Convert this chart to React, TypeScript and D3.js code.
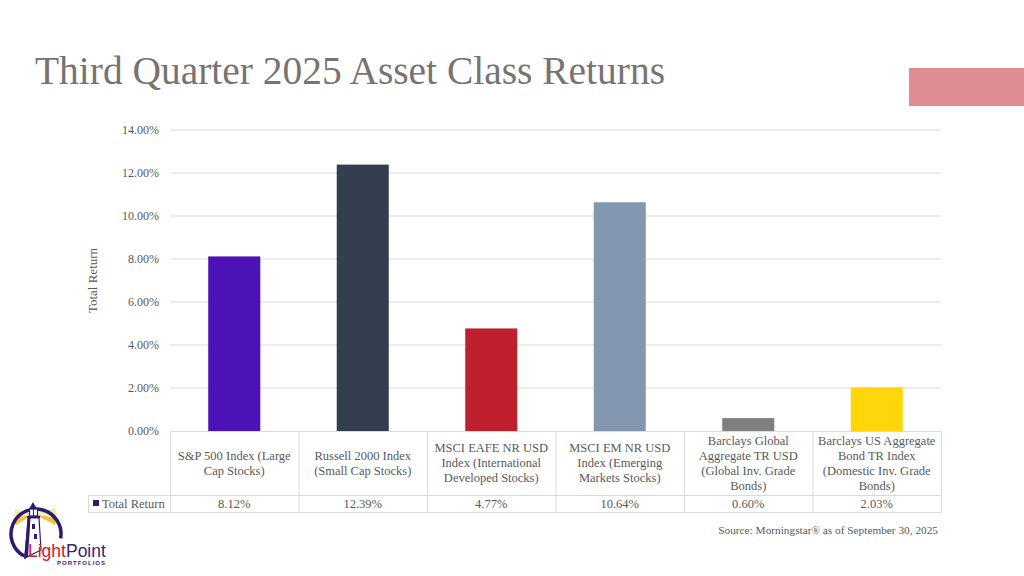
import React from "react";
import * as d3 from "d3";

const categories: string[][] = [
  ["S&P 500 Index (Large", "Cap Stocks)"],
  ["Russell 2000 Index", "(Small Cap Stocks)"],
  ["MSCI EAFE NR USD", "Index (International", "Developed Stocks)"],
  ["MSCI EM NR USD", "Index (Emerging", "Markets Stocks)"],
  ["Barclays Global", "Aggregate TR USD", "(Global Inv. Grade", "Bonds)"],
  ["Barclays US Aggregate", "Bond TR Index", "(Domestic Inv. Grade", "Bonds)"],
];
const values: number[] = [8.12, 12.39, 4.77, 10.64, 0.6, 2.03];
const barColors: string[] = ["#4b12b7", "#333f50", "#c01f2e", "#8497b0", "#7f7f7f", "#ffd60a"];
const yTicks: number[] = [0, 2, 4, 6, 8, 10, 12, 14];
const seriesName = "Total Return";
const titleText = "Third Quarter 2025 Asset Class Returns";
const sourceText = "Source: Morningstar\u00ae as of September 30, 2025";

const FONT = '"Liberation Serif", "DejaVu Serif", "Noto Serif", serif';
const SANS = '"Liberation Sans", "DejaVu Sans", sans-serif';

export default function App() {
  const left = 170;
  const right = 941;
  const top = 130;
  const bottom = 431;
  const tableMid = 495;
  const tableBottom = 512;
  const legendLeft = 88;

  const x = d3
    .scaleBand<number>()
    .domain(d3.range(values.length))
    .range([left, right])
    .paddingInner(0)
    .paddingOuter(0);
  const y = d3.scaleLinear().domain([0, 14]).range([bottom, top]);
  const bw = x.bandwidth();
  const barW = bw * 0.405;
  const fmt = d3.format(".2f");
  const grid = "#d9d9d9";
  const textCol = "#595959";

  // logo arc
  const lcx = 36, lcy = 534, lr = 25;
  const pt = (deg: number) => [lcx + lr * Math.cos((deg * Math.PI) / 180), lcy - lr * Math.sin((deg * Math.PI) / 180)];
  const a0 = pt(-118), a1 = pt(-10);
  const purple = "#2e1a6e";

  return (
    <svg
      width={1024}
      height={576}
      viewBox="0 0 1024 576"
      style={{ position: "absolute", left: 0, top: 0, background: "#fff", fontFamily: FONT }}
    >
      <rect x={0} y={0} width={1024} height={576} fill="#ffffff" />
      <text x={35} y={84} fontSize={39} fill="#787373" style={{ fontFamily: FONT }} textLength={630} lengthAdjust="spacingAndGlyphs">
        {titleText}
      </text>
      <rect x={909} y={68} width={115} height={38} fill="#e08c93" />

      {yTicks.map((t) =>
        t === 0 ? null : (
          <line key={"g" + t} x1={left} x2={right} y1={y(t)} y2={y(t)} stroke={grid} strokeWidth={1} />
        )
      )}
      {yTicks.map((t) => (
        <text key={"t" + t} x={159} y={y(t)} dy="0.35em" textAnchor="end" fontSize={12} fill={textCol} style={{ fontFamily: FONT }}>
          {fmt(t) + "%"}
        </text>
      ))}
      <text
        transform={`translate(97,${(top + bottom) / 2}) rotate(-90)`}
        textAnchor="middle"
        fontSize={13}
        fill={textCol}
        style={{ fontFamily: FONT }}
      >
        {seriesName}
      </text>

      {values.map((v, i) => (
        <rect
          key={"b" + i}
          x={(x(i) as number) + (bw - barW) / 2}
          y={y(v)}
          width={barW}
          height={y(0) - y(v)}
          fill={barColors[i]}
        />
      ))}

      <g stroke={grid} strokeWidth={1} fill="none">
        <line x1={left} x2={right} y1={bottom + 0.5} y2={bottom + 0.5} />
        <line x1={legendLeft} x2={right} y1={tableMid + 0.5} y2={tableMid + 0.5} />
        <line x1={legendLeft} x2={right} y1={tableBottom + 0.5} y2={tableBottom + 0.5} />
        <line x1={legendLeft + 0.5} x2={legendLeft + 0.5} y1={tableMid} y2={tableBottom + 1} />
        {d3.range(values.length + 1).map((i) => {
          const xx = i < values.length ? (x(i) as number) : right;
          return <line key={"v" + i} x1={xx + 0.5} x2={xx + 0.5} y1={bottom} y2={tableBottom + 1} />;
        })}
      </g>
      {categories.map((lines, i) => {
        const cx = (x(i) as number) + bw / 2;
        const lh = 15;
        const cy = (bottom + tableMid) / 2;
        const start = cy - ((lines.length - 1) * lh) / 2;
        return (
          <text key={"c" + i} textAnchor="middle" fontSize={12.5} fill={textCol} style={{ fontFamily: FONT }}>
            {lines.map((l, j) => (
              <tspan key={j} x={cx} y={start + j * lh} dy="0.35em">
                {l}
              </tspan>
            ))}
          </text>
        );
      })}
      {values.map((v, i) => (
        <text
          key={"val" + i}
          x={(x(i) as number) + bw / 2}
          y={(tableMid + tableBottom) / 2 + 0.5}
          dy="0.35em"
          textAnchor="middle"
          fontSize={12.5}
          fill={textCol}
          style={{ fontFamily: FONT }}
        >
          {fmt(v) + "%"}
        </text>
      ))}
      <rect x={93} y={500} width={6} height={6} fill={purple} />
      <text x={102} y={(tableMid + tableBottom) / 2 + 0.5} dy="0.35em" fontSize={12.5} fill={textCol} style={{ fontFamily: FONT }}>
        {seriesName}
      </text>

      <text x={938} y={530} dy="0.35em" textAnchor="end" fontSize={11.3} fill={textCol} style={{ fontFamily: FONT }}>
        {sourceText}
      </text>

      {/* logo */}
      <g>
        <path d="M34,514 L15,509 L14,516 Z" fill="#fbe7a6" />
        <path d="M34,514 L14,518 L16,525 Z" fill="#f5c33b" />
        <path d="M34,514 L55,508 L57,515 Z" fill="#fbe7a6" />
        <path d="M34,514 L57,518 L55,525 Z" fill="#f5c33b" />
        <path d={`M${a0[0]},${a0[1]} A${lr},${lr} 0 1 1 ${a1[0]},${a1[1]}`} fill="none" stroke={purple} strokeWidth={3.5} />
        <path d="M33,502 L37,509 L29,509 Z" fill={purple} />
        <rect x={29.5} y={509} width={8} height={7} fill="#ffffff" stroke={purple} strokeWidth={1.2} />
        <line x1={33.5} x2={33.5} y1={509} y2={516} stroke={purple} strokeWidth={1} />
        <rect x={27} y={516} width={13} height={2} fill={purple} />
        <path d="M28,518 L39,518 L41,550 L25,558 Z" fill="#ffffff" stroke={purple} strokeWidth={1.2} />
        <path d="M28,518 L30.5,518 L28,557 L24,559 Z" fill={purple} />
        <rect x={32} y={524} width={3} height={5} fill={purple} />
        <rect x={34} y={534} width={3} height={5} fill={purple} />
        <text x={28} y={557} style={{ fontFamily: SANS }} fontSize={17.5}>
          <tspan fill="#c8202f">Light</tspan>
          <tspan fill="#3b2273">Point</tspan>
        </text>
        <text
          x={57}
          y={565}
          style={{ fontFamily: SANS }}
          fontSize={6}
          fontWeight="bold"
          fill="#3b2273"
          textLength={48}
        >
          PORTFOLIOS
        </text>
      </g>
    </svg>
  );
}
